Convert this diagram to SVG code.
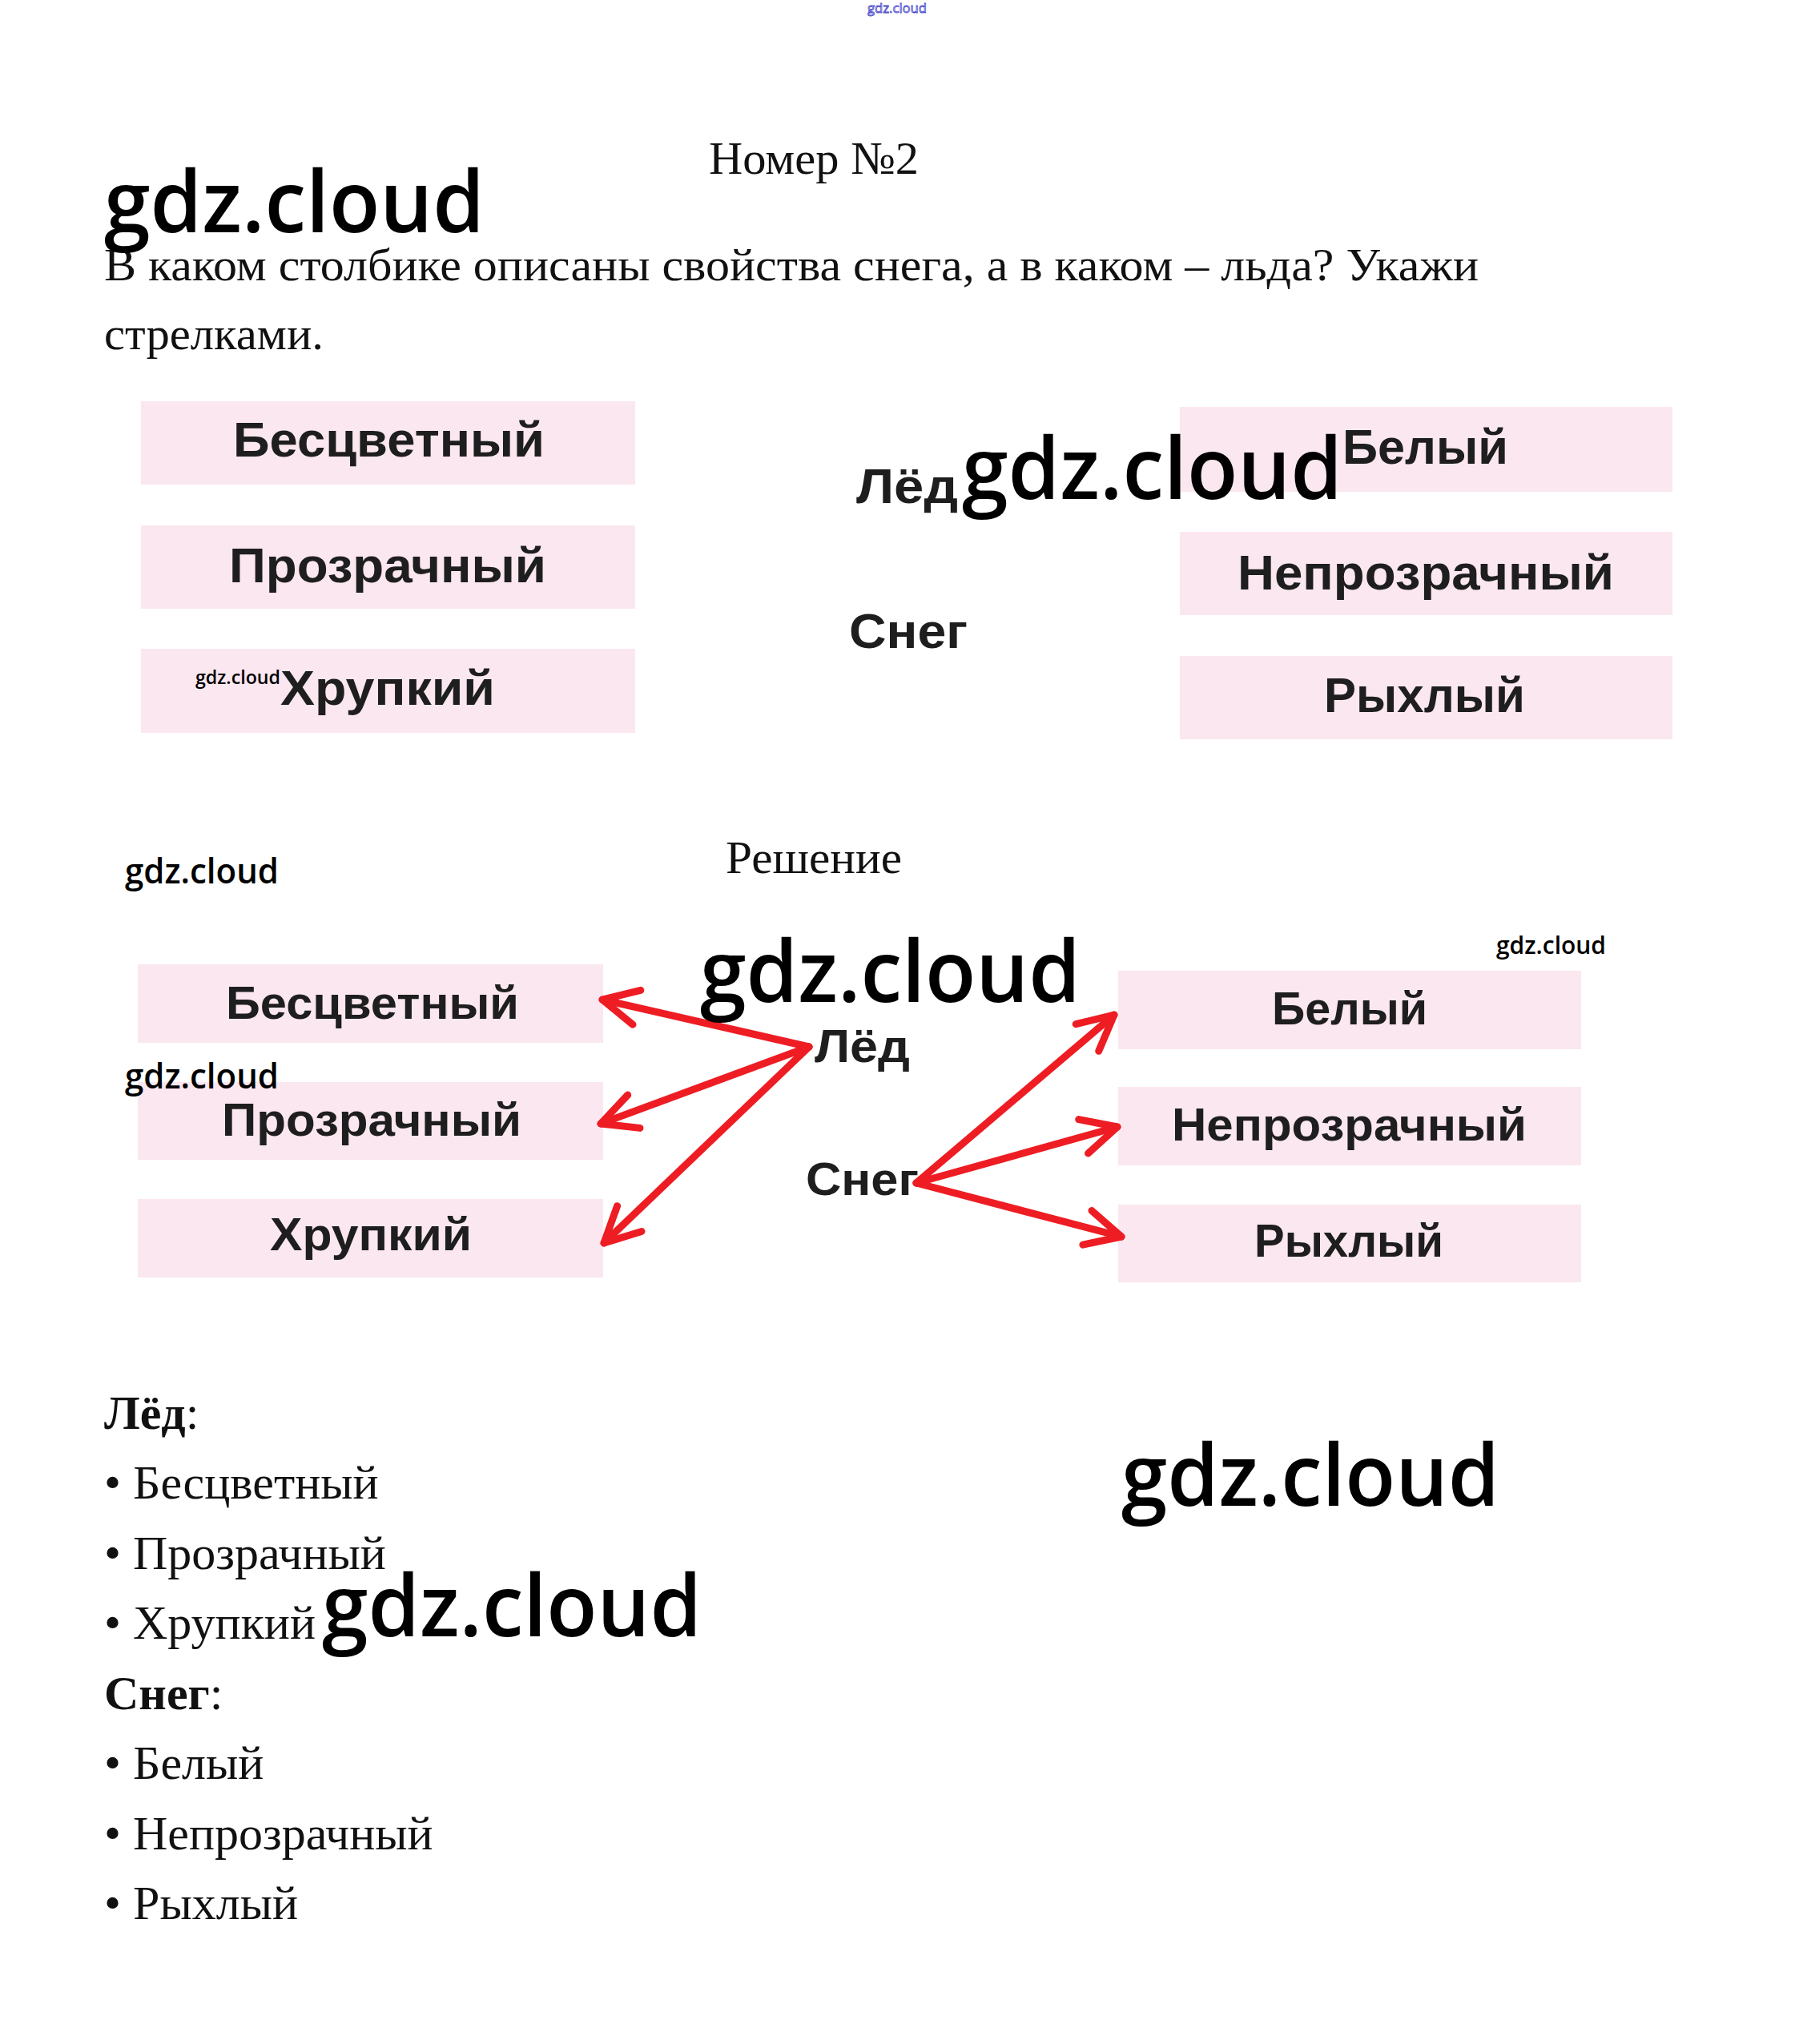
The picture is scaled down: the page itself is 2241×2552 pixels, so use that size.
<svg xmlns="http://www.w3.org/2000/svg" width="2241" height="2552" viewBox="0 0 2241 2552">
<defs>
<style>
.serif{font-family:"Liberation Serif","Times New Roman",serif;font-size:58px;fill:#111}
.list{font-family:"Liberation Serif","Times New Roman",serif;font-size:60px;fill:#111}
.lbl{font-family:"Liberation Sans",Arial,sans-serif;font-weight:bold;fill:#1e1e1e;text-anchor:start}
.wm{font-family:"Open Sans","Noto Sans",sans-serif;font-weight:600;fill:#000}
.box{fill:#fbe7f0}
.arr{stroke:#ee1d23;stroke-width:9;fill:none;stroke-linecap:round;stroke-linejoin:round}
</style>
<marker id="chev" viewBox="0 0 60 60" markerWidth="60" markerHeight="60" refX="50" refY="30" orient="auto" markerUnits="userSpaceOnUse">
<path d="M6,8 L50,30 L6,52" fill="none" stroke="#ee1d23" stroke-width="9" stroke-linecap="round" stroke-linejoin="round"/>
</marker>
</defs>
<rect width="2241" height="2552" fill="#fff"/>

<text x="1083" y="16" font-family="Open Sans, sans-serif" font-size="17" fill="#fff" stroke="#3b3bc8" stroke-width="0.8" textLength="74" lengthAdjust="spacingAndGlyphs">gdz.cloud</text>

<text class="serif" x="885" y="217" textLength="262" lengthAdjust="spacingAndGlyphs">Номер №2</text>
<text class="serif" x="130" y="350" textLength="1716" lengthAdjust="spacingAndGlyphs">В каком столбике описаны свойства снега, а в каком – льда? Укажи</text>
<text class="serif" x="130" y="436" textLength="274" lengthAdjust="spacingAndGlyphs">стрелками.</text>

<g id="task">
<g id="t-bescv"><rect class="box" x="176" y="501" width="617" height="104"/><text class="lbl" x="291" y="570" font-size="62" textLength="389" lengthAdjust="spacingAndGlyphs">Бесцветный</text></g>
<g id="t-prozr"><rect class="box" x="176" y="656" width="617" height="104"/><text class="lbl" x="286" y="727" font-size="62" textLength="396" lengthAdjust="spacingAndGlyphs">Прозрачный</text></g>
<g id="t-hrup"><rect class="box" x="176" y="810" width="617" height="105"/><text class="lbl" x="350" y="880" font-size="62" textLength="268" lengthAdjust="spacingAndGlyphs">Хрупкий</text></g>
<g id="t-bel"><rect class="box" x="1473" y="508" width="615" height="106"/><text class="lbl" x="1676" y="579" font-size="62" textLength="207" lengthAdjust="spacingAndGlyphs">Белый</text></g>
<g id="t-neprozr"><rect class="box" x="1473" y="664" width="615" height="104"/><text class="lbl" x="1545" y="736" font-size="62" textLength="470" lengthAdjust="spacingAndGlyphs">Непрозрачный</text></g>
<g id="t-ryhl"><rect class="box" x="1473" y="819" width="615" height="104"/><text class="lbl" x="1653" y="889" font-size="62" textLength="251" lengthAdjust="spacingAndGlyphs">Рыхлый</text></g>
<g id="t-led"><text class="lbl" x="1069" y="628" font-size="62" textLength="127" lengthAdjust="spacingAndGlyphs">Лёд</text></g>
<g id="t-sneg"><text class="lbl" x="1060" y="809" font-size="62" textLength="148" lengthAdjust="spacingAndGlyphs">Снег</text></g>
</g>

<text class="serif" x="906" y="1090" textLength="220" lengthAdjust="spacingAndGlyphs">Решение</text>

<g id="solution">
<g id="s-bescv"><rect class="box" x="172" y="1204" width="581" height="98"/><text class="lbl" x="282" y="1272" font-size="58" textLength="366" lengthAdjust="spacingAndGlyphs">Бесцветный</text></g>
<g id="s-prozr"><rect class="box" x="172" y="1351" width="581" height="97"/><text class="lbl" x="277" y="1418" font-size="58" textLength="374" lengthAdjust="spacingAndGlyphs">Прозрачный</text></g>
<g id="s-hrup"><rect class="box" x="172" y="1497" width="581" height="98"/><text class="lbl" x="337" y="1561" font-size="58" textLength="252" lengthAdjust="spacingAndGlyphs">Хрупкий</text></g>
<g id="s-bel"><rect class="box" x="1396" y="1212" width="578" height="98"/><text class="lbl" x="1588" y="1279" font-size="58" textLength="194" lengthAdjust="spacingAndGlyphs">Белый</text></g>
<g id="s-neprozr"><rect class="box" x="1396" y="1357" width="578" height="98"/><text class="lbl" x="1463" y="1424" font-size="58" textLength="443" lengthAdjust="spacingAndGlyphs">Непрозрачный</text></g>
<g id="s-ryhl"><rect class="box" x="1396" y="1504" width="578" height="97"/><text class="lbl" x="1566" y="1569" font-size="58" textLength="236" lengthAdjust="spacingAndGlyphs">Рыхлый</text></g>
<g id="s-led"><text class="lbl" x="1017" y="1326" font-size="58" textLength="119" lengthAdjust="spacingAndGlyphs">Лёд</text></g>
<g id="s-sneg"><text class="lbl" x="1006" y="1492" font-size="58" textLength="141" lengthAdjust="spacingAndGlyphs">Снег</text></g>
</g>

<g id="connectors">
<line class="arr" x1="1010" y1="1307" x2="752" y2="1248" marker-end="url(#chev)"/>
<line class="arr" x1="1010" y1="1307" x2="750" y2="1403" marker-end="url(#chev)"/>
<line class="arr" x1="1010" y1="1307" x2="754" y2="1552" marker-end="url(#chev)"/>
<line class="arr" x1="1144" y1="1477" x2="1391" y2="1267" marker-end="url(#chev)"/>
<line class="arr" x1="1144" y1="1477" x2="1395" y2="1407" marker-end="url(#chev)"/>
<line class="arr" x1="1144" y1="1477" x2="1400" y2="1544" marker-end="url(#chev)"/>
</g>

<g id="answer">
<text class="list" x="130" y="1784"><tspan font-weight="bold">Лёд</tspan>:</text>
<text class="list" x="130" y="1871">• Бесцветный</text>
<text class="list" x="130" y="1959">• Прозрачный</text>
<text class="list" x="130" y="2046">• Хрупкий</text>
<text class="list" x="130" y="2134"><tspan font-weight="bold">Снег</tspan>:</text>
<text class="list" x="130" y="2221">• Белый</text>
<text class="list" x="130" y="2309">• Непрозрачный</text>
<text class="list" x="130" y="2396">• Рыхлый</text>
</g>

<g id="watermarks">
<text class="wm" x="130" y="290" font-size="106" textLength="475" lengthAdjust="spacingAndGlyphs">gdz.cloud</text>
<text class="wm" x="1201" y="623" font-size="106" textLength="475" lengthAdjust="spacingAndGlyphs">gdz.cloud</text>
<text class="wm" x="244" y="854" font-size="24" textLength="106" lengthAdjust="spacingAndGlyphs">gdz.cloud</text>
<text class="wm" x="156" y="1103" font-size="43" textLength="192" lengthAdjust="spacingAndGlyphs">gdz.cloud</text>
<text class="wm" x="874" y="1251" font-size="106" textLength="475" lengthAdjust="spacingAndGlyphs">gdz.cloud</text>
<text class="wm" x="1868" y="1191" font-size="31" textLength="137" lengthAdjust="spacingAndGlyphs">gdz.cloud</text>
<text class="wm" x="156" y="1359" font-size="43" textLength="192" lengthAdjust="spacingAndGlyphs">gdz.cloud</text>
<text class="wm" x="1400" y="1880" font-size="106" textLength="472" lengthAdjust="spacingAndGlyphs">gdz.cloud</text>
<text class="wm" x="402" y="2043" font-size="106" textLength="474" lengthAdjust="spacingAndGlyphs">gdz.cloud</text>
</g>
</svg>
